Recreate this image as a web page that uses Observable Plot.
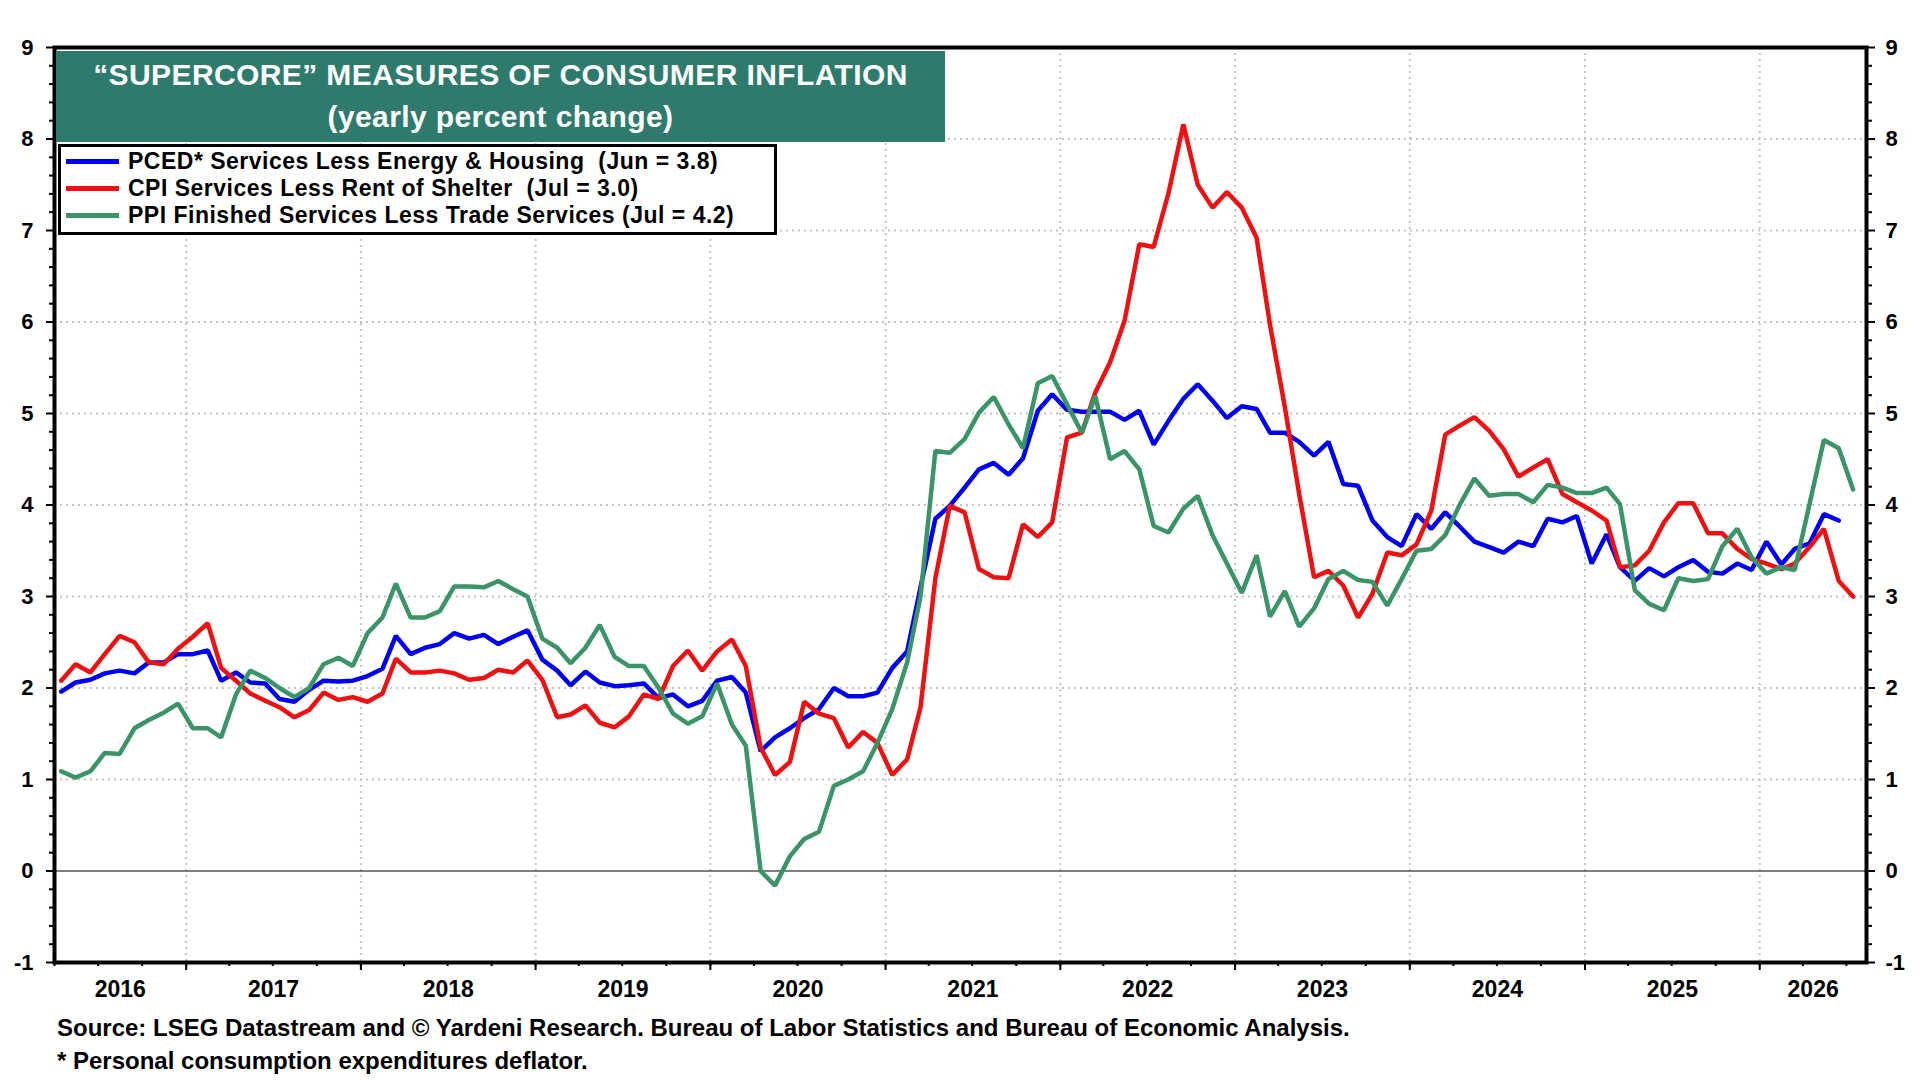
<!DOCTYPE html>
<html>
<head>
<meta charset="utf-8">
<script src="https://cdn.jsdelivr.net/npm/d3@7"></script>
<script src="https://cdn.jsdelivr.net/npm/@observablehq/plot@0.6"></script>
<style>
  html, body { margin: 0; padding: 0; background: #fff; }
  #wrap { position: relative; width: 1920px; height: 1080px; font-family: "Liberation Sans", Arial, sans-serif; font-weight: bold; }
  #title { position: absolute; left: 56px; top: 51px; width: 889px; height: 91px; background: #2e7b6e; color: #fff;
           font-size: 30px; letter-spacing: 0.4px; text-align: center; line-height: 42px; padding-top: 3px; box-sizing: border-box; }
  #legend { position: absolute; left: 58px; top: 144px; width: 719px; height: 91px; background: #fff; border: 3px solid #000;
            box-sizing: border-box; padding-top: 1px; }
  .lrow { height: 27px; display: flex; align-items: center; font-size: 23px; letter-spacing: 0.5px; color: #000; white-space: pre; }
  .sw { width: 53px; height: 5px; margin-left: 5px; margin-right: 9px; flex: none; }
  #caption { position: absolute; left: 57px; top: 1011px; font-size: 24px; color: #000; line-height: 33px; }
</style>
</head>
<body>
<div id="wrap">
  <div id="chart"></div>
  <div id="title"></div>
  <div id="legend"></div>
  <div id="caption"></div>
</div>
<script>
// ---- data (monthly, first observation Apr 2016) ----
const firstMonth = [2016, 3]; // April 2016 (month index 3)
const pced = [1.96,2.06,2.09,2.16,2.19,2.16,2.28,2.28,2.37,2.37,2.41,2.08,2.17,2.06,2.05,1.88,1.85,1.98,2.08,2.07,2.08,2.13,2.21,2.57,2.37,2.44,2.48,2.60,2.54,2.58,2.48,2.56,2.63,2.31,2.19,2.03,2.18,2.06,2.02,2.03,2.05,1.89,1.93,1.80,1.86,2.08,2.12,1.95,1.31,1.46,1.56,1.67,1.77,2.00,1.91,1.91,1.95,2.22,2.40,3.10,3.85,3.99,4.19,4.39,4.46,4.33,4.51,5.03,5.21,5.04,5.02,5.02,5.02,4.93,5.03,4.66,4.92,5.16,5.32,5.14,4.95,5.08,5.05,4.79,4.79,4.69,4.54,4.69,4.23,4.21,3.83,3.65,3.55,3.90,3.74,3.92,3.76,3.60,3.54,3.48,3.60,3.55,3.85,3.81,3.88,3.36,3.68,3.32,3.17,3.31,3.22,3.32,3.40,3.27,3.25,3.36,3.29,3.60,3.35,3.52,3.58,3.90,3.83];
const cpi = [2.08,2.26,2.17,2.37,2.57,2.50,2.28,2.26,2.43,2.56,2.71,2.22,2.08,1.94,1.86,1.79,1.68,1.76,1.95,1.87,1.90,1.85,1.94,2.32,2.17,2.17,2.19,2.16,2.09,2.11,2.20,2.17,2.30,2.09,1.68,1.71,1.81,1.62,1.57,1.69,1.93,1.88,2.24,2.41,2.19,2.40,2.53,2.24,1.35,1.05,1.19,1.85,1.72,1.67,1.35,1.52,1.40,1.05,1.22,1.79,3.20,3.99,3.92,3.30,3.21,3.20,3.79,3.65,3.81,4.74,4.79,5.23,5.56,6.01,6.85,6.82,7.41,8.16,7.50,7.25,7.42,7.25,6.92,5.97,5.07,4.12,3.21,3.28,3.12,2.77,3.03,3.48,3.45,3.57,3.94,4.77,4.87,4.96,4.81,4.61,4.31,4.41,4.50,4.12,4.03,3.94,3.83,3.32,3.34,3.50,3.81,4.02,4.02,3.69,3.69,3.52,3.41,3.36,3.30,3.36,3.54,3.74,3.17,3.00];
const ppi = [1.09,1.02,1.09,1.29,1.28,1.56,1.65,1.73,1.83,1.56,1.56,1.46,1.93,2.19,2.11,2.00,1.90,2.00,2.26,2.33,2.24,2.60,2.77,3.14,2.77,2.77,2.84,3.11,3.11,3.10,3.17,3.08,3.00,2.54,2.44,2.27,2.44,2.69,2.34,2.24,2.24,2.00,1.72,1.61,1.69,2.05,1.60,1.37,0.00,-0.16,0.16,0.35,0.43,0.93,1.00,1.09,1.40,1.77,2.28,3.00,4.59,4.57,4.72,5.01,5.18,4.88,4.62,5.33,5.41,5.10,4.79,5.19,4.50,4.59,4.39,3.77,3.70,3.96,4.10,3.67,3.36,3.04,3.45,2.78,3.06,2.67,2.87,3.19,3.28,3.18,3.16,2.90,3.19,3.50,3.52,3.67,4.01,4.29,4.10,4.12,4.12,4.03,4.22,4.19,4.13,4.13,4.19,4.01,3.07,2.92,2.85,3.20,3.17,3.19,3.55,3.74,3.43,3.25,3.32,3.29,4.01,4.71,4.62,4.17];

const seriesNames = [
  "PCED* Services Less Energy & Housing  (Jun = 3.8)",
  "CPI Services Less Rent of Shelter  (Jul = 3.0)",
  "PPI Finished Services Less Trade Services (Jul = 4.2)"
];
const seriesColors = ["#0000f0", "#ee1111", "#3b9467"];
const seriesValues = [pced, cpi, ppi];

const yMajorTicks = [-1, 0, 1, 2, 3, 4, 5, 6, 7, 8, 9];
const yearLabels = [2016, 2017, 2018, 2019, 2020, 2021, 2022, 2023, 2024, 2025, 2026];
const xDomain = [new Date(Date.UTC(2016, 3, 1)), new Date(Date.UTC(2026, 7, 12))];

const titleLines = ["\u201CSUPERCORE\u201D MEASURES OF CONSUMER INFLATION", "(yearly percent change)"];
const captionLines = [
  "Source: LSEG Datastream and \u00A9 Yardeni Research. Bureau of Labor Statistics and Bureau of Economic Analysis.",
  "* Personal consumption expenditures deflator."
];

// ---- derived tables ----
const monthDate = i => new Date(Date.UTC(firstMonth[0], firstMonth[1] + i, 15));
const rows = seriesValues.flatMap((vals, s) =>
  vals.map((v, i) => ({series: seriesNames[s], date: monthDate(i), value: v})));

const yMinorTicks = d3.range(-1, 9.001, 0.2).map(d => Math.round(d * 10) / 10)
  .filter(d => Math.abs(d - Math.round(d)) > 1e-6);
const yearStarts = yearLabels.slice(1).map(y => new Date(Date.UTC(y, 0, 1)));
const quarterTicks = d3.utcMonth.every(3).range(xDomain[0], xDomain[1]);
const yearMids = yearLabels.map(y => {
  const a = Math.max(+xDomain[0], Date.UTC(y, 0, 1));
  const b = Math.min(+xDomain[1], Date.UTC(y + 1, 0, 1));
  return new Date((a + b) / 2);
});

const gridStyle = {stroke: "#c4c4c4", strokeOpacity: 1, strokeWidth: 2, strokeDasharray: "2,4"};

const chart = Plot.plot({
  width: 1920,
  height: 1005,
  marginLeft: 54,
  marginRight: 54,
  marginTop: 47,
  marginBottom: 43,
  style: {fontFamily: "'Liberation Sans', Arial, sans-serif", fontWeight: "bold", fontSize: "22px", color: "#000", background: "#fff"},
  x: {type: "utc", domain: xDomain},
  y: {domain: [-1, 9]},
  color: {domain: seriesNames, range: seriesColors},
  marks: [
    Plot.gridY(yMajorTicks.filter(d => d !== 0), gridStyle),
    Plot.gridX(yearStarts, gridStyle),
    Plot.ruleY([0], {stroke: "#000", strokeWidth: 1.2}),
    Plot.lineY(rows, {x: "date", y: "value", z: "series", stroke: "series", strokeWidth: 4.5, strokeLinejoin: "miter"}),
    Plot.frame({stroke: "#000", strokeWidth: 4}),
    Plot.axisY(yMajorTicks, {anchor: "left", label: null, tickSize: 8, tickPadding: 13, strokeWidth: 2, tickFormat: d => String(d)}),
    Plot.axisY(yMinorTicks, {anchor: "left", label: null, tickSize: 5, strokeWidth: 2, tickFormat: () => ""}),
    Plot.axisY(yMajorTicks, {anchor: "right", label: null, tickSize: 8, tickPadding: 11, strokeWidth: 2, tickFormat: d => String(d)}),
    Plot.axisY(yMinorTicks, {anchor: "right", label: null, tickSize: 5, strokeWidth: 2, tickFormat: () => ""}),
    Plot.axisX(quarterTicks, {anchor: "bottom", label: null, tickSize: 4, strokeWidth: 2, tickFormat: () => ""}),
    Plot.axisX(yearStarts, {anchor: "bottom", label: null, tickSize: 8, strokeWidth: 2, tickFormat: () => ""}),
    Plot.axisX(yearMids, {anchor: "bottom", label: null, tickSize: 0, tickPadding: 18, fontSize: 23, tickFormat: d => String(d.getUTCFullYear())})
  ]
});
document.getElementById("chart").appendChild(chart);

// title box
const t = document.getElementById("title");
titleLines.forEach(s => { const d = document.createElement("div"); d.textContent = s; t.appendChild(d); });

// legend
const lg = document.getElementById("legend");
seriesNames.forEach((n, i) => {
  const r = document.createElement("div"); r.className = "lrow";
  const sw = document.createElement("span"); sw.className = "sw"; sw.style.background = seriesColors[i];
  const tx = document.createElement("span"); tx.textContent = n;
  r.appendChild(sw); r.appendChild(tx); lg.appendChild(r);
});

// caption
const cp = document.getElementById("caption");
captionLines.forEach(s => { const d = document.createElement("div"); d.textContent = s; cp.appendChild(d); });
</script>
</body>
</html>
